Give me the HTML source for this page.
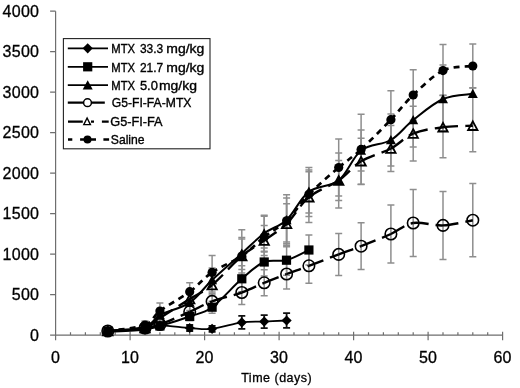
<!DOCTYPE html>
<html><head><meta charset="utf-8"><title>chart</title>
<style>
html,body{margin:0;padding:0;background:#fff;}
body{width:520px;height:388px;overflow:hidden;font-family:"Liberation Sans",sans-serif;}
svg{display:block;filter:blur(0.45px)}
text{font-family:"Liberation Sans",sans-serif;fill:#000}
.ax{font-size:16px;letter-spacing:0.3px;stroke:#000;stroke-width:0.3px}
.lg{font-size:12.8px;stroke:#000;stroke-width:0.35px}
.tt{font-size:12.5px;letter-spacing:0.5px;stroke:#000;stroke-width:0.3px}
</style></head><body>
<svg width="520" height="388" viewBox="0 0 520 388">
<rect width="520" height="388" fill="#fff"/>
<path d="M55.6,11.3 V335.2 M55.6,335.2 H502.6 M50.1,335.2 H55.6 M50.1,294.7 H55.6 M50.1,254.2 H55.6 M50.1,213.7 H55.6 M50.1,173.2 H55.6 M50.1,132.7 H55.6 M50.1,92.2 H55.6 M50.1,51.7 H55.6 M50.1,11.2 H55.6 M55.6,331.7 V340.2 M70.5,332.2 V335.2 M85.4,332.2 V335.2 M100.3,332.2 V335.2 M115.2,332.2 V335.2 M130.1,331.7 V340.2 M145.0,332.2 V335.2 M159.9,332.2 V335.2 M174.8,332.2 V335.2 M189.7,332.2 V335.2 M204.6,331.7 V340.2 M219.5,332.2 V335.2 M234.4,332.2 V335.2 M249.3,332.2 V335.2 M264.2,332.2 V335.2 M279.1,331.7 V340.2 M294.0,332.2 V335.2 M308.9,332.2 V335.2 M323.8,332.2 V335.2 M338.7,332.2 V335.2 M353.6,331.7 V340.2 M368.5,332.2 V335.2 M383.4,332.2 V335.2 M398.3,332.2 V335.2 M413.2,332.2 V335.2 M428.1,331.7 V340.2 M443.0,332.2 V335.2 M457.9,332.2 V335.2 M472.8,332.2 V335.2 M487.7,332.2 V335.2 M502.6,331.7 V340.2" stroke="#6e6e6e" stroke-width="1.2" fill="none"/>
<path d="M107.8,329.0 V333.0 M104.2,329.0 H111.2 M104.2,333.0 H111.2 M145.0,321.0 V329.0 M141.5,321.0 H148.5 M141.5,329.0 H148.5 M159.9,303.0 V319.0 M156.4,303.0 H163.4 M156.4,319.0 H163.4 M189.7,282.7 V300.7 M186.2,282.7 H193.2 M186.2,300.7 H193.2 M212.1,255.4 V289.4 M208.6,255.4 H215.6 M208.6,289.4 H215.6 M241.8,229.7 V279.0 M238.3,229.7 H245.3 M238.3,279.0 H245.3 M264.2,216.2 V252.0 M260.7,216.2 H267.7 M260.7,252.0 H267.7 M286.6,194.8 V246.8 M283.1,194.8 H290.1 M283.1,246.8 H290.1 M308.9,167.4 V216.4 M305.4,167.4 H312.4 M305.4,216.4 H312.4 M338.7,139.0 V196.0 M335.2,139.0 H342.2 M335.2,196.0 H342.2 M361.1,114.2 V184.6 M357.6,114.2 H364.6 M357.6,184.6 H364.6 M390.9,90.7 V148.7 M387.4,90.7 H394.4 M387.4,148.7 H394.4 M413.2,69.7 V120.3 M409.7,69.7 H416.7 M409.7,120.3 H416.7 M443.0,44.6 V95.2 M439.5,44.6 H446.5 M439.5,95.2 H446.5 M472.8,44.0 V88.0 M469.3,44.0 H476.3 M469.3,88.0 H476.3" stroke="#8e8e8e" stroke-width="1.5" fill="none"/>
<path d="M107.8,329.0 V333.0 M104.2,329.0 H111.2 M104.2,333.0 H111.2 M145.0,324.0 V330.0 M141.5,324.0 H148.5 M141.5,330.0 H148.5 M159.9,310.0 V320.0 M156.4,310.0 H163.4 M156.4,320.0 H163.4 M189.7,294.6 V310.6 M186.2,294.6 H193.2 M186.2,310.6 H193.2 M212.1,268.0 V292.0 M208.6,268.0 H215.6 M208.6,292.0 H215.6 M241.8,237.4 V269.4 M238.3,237.4 H245.3 M238.3,269.4 H245.3 M264.2,215.3 V251.3 M260.7,215.3 H267.7 M260.7,251.3 H267.7 M286.6,198.0 V242.0 M283.1,198.0 H290.1 M283.1,242.0 H290.1 M308.9,170.1 V213.1 M305.4,170.1 H312.4 M305.4,213.1 H312.4 M338.7,160.5 V200.5 M335.2,160.5 H342.2 M335.2,200.5 H342.2 M361.1,130.0 V171.0 M357.6,130.0 H364.6 M357.6,171.0 H364.6 M390.9,114.0 V166.0 M387.4,114.0 H394.4 M387.4,166.0 H394.4 M413.2,93.0 V147.0 M409.7,93.0 H416.7 M409.7,147.0 H416.7 M443.0,65.0 V131.0 M439.5,65.0 H446.5 M439.5,131.0 H446.5" stroke="#8e8e8e" stroke-width="1.5" fill="none"/>
<path d="M107.8,329.0 V333.0 M104.2,329.0 H111.2 M104.2,333.0 H111.2 M145.0,325.0 V331.0 M141.5,325.0 H148.5 M141.5,331.0 H148.5 M159.9,313.0 V323.0 M156.4,313.0 H163.4 M156.4,323.0 H163.4 M189.7,292.0 V306.0 M186.2,292.0 H193.2 M186.2,306.0 H193.2 M212.1,275.0 V295.0 M208.6,275.0 H215.6 M208.6,295.0 H215.6 M241.8,239.0 V273.0 M238.3,239.0 H245.3 M238.3,273.0 H245.3 M264.2,225.5 V255.5 M260.7,225.5 H267.7 M260.7,255.5 H267.7 M286.6,203.8 V243.8 M283.1,203.8 H290.1 M283.1,243.8 H290.1 M308.9,171.8 V222.6 M305.4,171.8 H312.4 M305.4,222.6 H312.4 M338.7,152.9 V208.1 M335.2,152.9 H342.2 M335.2,208.1 H342.2 M361.1,138.2 V184.2 M357.6,138.2 H364.6 M357.6,184.2 H364.6 M390.9,125.5 V171.5 M387.4,125.5 H394.4 M387.4,171.5 H394.4 M413.2,106.3 V160.9 M409.7,106.3 H416.7 M409.7,160.9 H416.7 M443.0,95.4 V157.8 M439.5,95.4 H446.5 M439.5,157.8 H446.5 M472.8,87.7 V151.7 M469.3,87.7 H476.3 M469.3,151.7 H476.3" stroke="#8e8e8e" stroke-width="1.5" fill="none"/>
<path d="M107.8,329.0 V333.0 M104.2,329.0 H111.2 M104.2,333.0 H111.2 M145.0,326.0 V330.0 M141.5,326.0 H148.5 M141.5,330.0 H148.5 M159.9,321.5 V327.5 M156.4,321.5 H163.4 M156.4,327.5 H163.4 M189.7,305.8 V317.8 M186.2,305.8 H193.2 M186.2,317.8 H193.2 M212.1,293.4 V309.4 M208.6,293.4 H215.6 M208.6,309.4 H215.6 M241.8,280.5 V304.5 M238.3,280.5 H245.3 M238.3,304.5 H245.3 M264.2,269.8 V295.8 M260.7,269.8 H267.7 M260.7,295.8 H267.7 M286.6,259.0 V289.0 M283.1,259.0 H290.1 M283.1,289.0 H290.1 M308.9,248.3 V283.3 M305.4,248.3 H312.4 M305.4,283.3 H312.4 M338.7,233.4 V275.4 M335.2,233.4 H342.2 M335.2,275.4 H342.2 M361.1,222.8 V269.6 M357.6,222.8 H364.6 M357.6,269.6 H364.6 M390.9,205.0 V263.0 M387.4,205.0 H394.4 M387.4,263.0 H394.4 M413.2,189.6 V256.4 M409.7,189.6 H416.7 M409.7,256.4 H416.7 M443.0,191.4 V259.4 M439.5,191.4 H446.5 M439.5,259.4 H446.5 M472.8,183.6 V256.8 M469.3,183.6 H476.3 M469.3,256.8 H476.3" stroke="#8e8e8e" stroke-width="1.5" fill="none"/>
<path d="M107.8,329.0 V333.0 M104.2,329.0 H111.2 M104.2,333.0 H111.2 M145.0,327.0 V331.0 M141.5,327.0 H148.5 M141.5,331.0 H148.5 M159.9,323.0 V329.0 M156.4,323.0 H163.4 M156.4,329.0 H163.4 M189.7,312.5 V320.5 M186.2,312.5 H193.2 M186.2,320.5 H193.2 M212.1,301.2 V313.2 M208.6,301.2 H215.6 M208.6,313.2 H215.6 M241.8,265.8 V291.8 M238.3,265.8 H245.3 M238.3,291.8 H245.3 M264.2,248.0 V276.0 M260.7,248.0 H267.7 M260.7,276.0 H267.7 M286.6,245.2 V275.2 M283.1,245.2 H290.1 M283.1,275.2 H290.1 M308.9,235.0 V265.0 M305.4,235.0 H312.4 M305.4,265.0 H312.4" stroke="#8e8e8e" stroke-width="1.5" fill="none"/>
<path d="M107.8,332.0 C114.0,331.6 136.3,330.6 145.0,329.5 C153.7,328.4 152.5,325.9 159.9,325.7 C167.3,325.4 181.0,327.5 189.7,328.0 C198.4,328.5 203.4,329.7 212.1,328.8 C220.7,327.9 233.2,323.6 241.8,322.4 C250.5,321.2 256.8,321.9 264.2,321.6 C271.6,321.3 282.8,320.7 286.6,320.5" stroke="#000" stroke-width="1.8" fill="none"/>
<path d="M107.8,331.0 V333.0 M104.2,331.0 H111.2 M104.2,333.0 H111.2 M145.0,327.5 V331.5 M141.5,327.5 H148.5 M141.5,331.5 H148.5 M159.9,322.7 V328.7 M156.4,322.7 H163.4 M156.4,328.7 H163.4 M189.7,325.0 V331.0 M186.2,325.0 H193.2 M186.2,331.0 H193.2 M212.1,325.8 V331.8 M208.6,325.8 H215.6 M208.6,331.8 H215.6 M241.8,315.9 V328.9 M238.3,315.9 H245.3 M238.3,328.9 H245.3 M264.2,315.1 V328.1 M260.7,315.1 H267.7 M260.7,328.1 H267.7 M286.6,313.1 V327.9 M283.1,313.1 H290.1 M283.1,327.9 H290.1" stroke="#111" stroke-width="1.8" fill="none"/>
<path d="M107.8,326.9 l5.1,5.1 l-5.1,5.1 l-5.1,-5.1 z" fill="#000"/><path d="M145.0,324.4 l5.1,5.1 l-5.1,5.1 l-5.1,-5.1 z" fill="#000"/><path d="M159.9,320.6 l5.1,5.1 l-5.1,5.1 l-5.1,-5.1 z" fill="#000"/><path d="M189.7,322.9 l5.1,5.1 l-5.1,5.1 l-5.1,-5.1 z" fill="#000"/><path d="M212.1,323.7 l5.1,5.1 l-5.1,5.1 l-5.1,-5.1 z" fill="#000"/><path d="M241.8,317.3 l5.1,5.1 l-5.1,5.1 l-5.1,-5.1 z" fill="#000"/><path d="M264.2,316.5 l5.1,5.1 l-5.1,5.1 l-5.1,-5.1 z" fill="#000"/><path d="M286.6,315.4 l5.1,5.1 l-5.1,5.1 l-5.1,-5.1 z" fill="#000"/>
<path d="M107.8,331.0 C114.0,330.7 136.3,329.8 145.0,329.0 C153.7,328.2 152.5,328.1 159.9,326.0 C167.3,323.9 181.0,319.6 189.7,316.5 C198.4,313.4 203.4,313.5 212.1,307.2 C220.7,300.9 233.2,286.3 241.8,278.8 C250.5,271.3 256.8,265.1 264.2,262.0 C271.6,258.9 279.1,262.2 286.6,260.2 C294.0,258.2 305.2,251.7 308.9,250.0" stroke="#000" stroke-width="2" fill="none"/>
<rect x="103.2" y="326.4" width="9.2" height="9.2" fill="#000"/><rect x="140.4" y="324.4" width="9.2" height="9.2" fill="#000"/><rect x="155.3" y="321.4" width="9.2" height="9.2" fill="#000"/><rect x="185.1" y="311.9" width="9.2" height="9.2" fill="#000"/><rect x="207.5" y="302.6" width="9.2" height="9.2" fill="#000"/><rect x="237.2" y="274.2" width="9.2" height="9.2" fill="#000"/><rect x="259.6" y="257.4" width="9.2" height="9.2" fill="#000"/><rect x="281.9" y="255.6" width="9.2" height="9.2" fill="#000"/><rect x="304.3" y="245.4" width="9.2" height="9.2" fill="#000"/>
<path d="M107.8,331.0 C114.0,330.3 136.3,329.7 145.0,327.0 C153.7,324.3 152.5,319.1 159.9,315.0 C167.3,310.9 181.0,308.4 189.7,302.6 C198.4,296.8 203.4,288.2 212.1,280.0 C220.7,271.8 233.2,261.2 241.8,253.4 C250.5,245.6 256.8,238.9 264.2,233.3 C271.6,227.7 279.1,226.9 286.6,220.0 C294.0,213.1 300.2,198.2 308.9,191.6 C317.6,185.0 330.0,187.3 338.7,180.5 C347.4,173.7 352.4,157.2 361.1,150.5 C369.7,143.8 382.2,145.1 390.9,140.0 C399.5,134.9 404.5,126.8 413.2,120.0 C421.9,113.2 433.1,103.4 443.0,99.0 C452.9,94.6 467.8,94.7 472.8,93.8" stroke="#000" stroke-width="2" fill="none"/>
<path d="M107.8,326.0 l5,9.2 h-10 z" fill="#000"/><path d="M145.0,322.0 l5,9.2 h-10 z" fill="#000"/><path d="M159.9,310.0 l5,9.2 h-10 z" fill="#000"/><path d="M189.7,297.6 l5,9.2 h-10 z" fill="#000"/><path d="M212.1,275.0 l5,9.2 h-10 z" fill="#000"/><path d="M241.8,248.4 l5,9.2 h-10 z" fill="#000"/><path d="M264.2,228.3 l5,9.2 h-10 z" fill="#000"/><path d="M286.6,215.0 l5,9.2 h-10 z" fill="#000"/><path d="M308.9,186.6 l5,9.2 h-10 z" fill="#000"/><path d="M338.7,175.5 l5,9.2 h-10 z" fill="#000"/><path d="M361.1,145.5 l5,9.2 h-10 z" fill="#000"/><path d="M390.9,135.0 l5,9.2 h-10 z" fill="#000"/><path d="M413.2,115.0 l5,9.2 h-10 z" fill="#000"/><path d="M443.0,94.0 l5,9.2 h-10 z" fill="#000"/><path d="M472.8,88.8 l5,9.2 h-10 z" fill="#000"/>
<g stroke="#000" stroke-width="2.4" stroke-dasharray="15.5 7" fill="none"><path d="M107.8,331.0 C114.0,330.5 136.3,329.1 145.0,328.0"/><path d="M145.0,328.0 C153.7,326.9 152.5,327.2 159.9,324.5"/><path d="M159.9,324.5 C167.3,321.8 181.0,315.7 189.7,311.8"/><path d="M189.7,311.8 C198.4,307.9 203.4,304.6 212.1,301.4"/><path d="M212.1,301.4 C220.7,298.2 233.2,295.6 241.8,292.5"/><path d="M241.8,292.5 C250.5,289.4 256.8,285.9 264.2,282.8"/><path d="M264.2,282.8 C271.6,279.7 279.1,276.8 286.6,274.0"/><path d="M286.6,274.0 C294.0,271.2 300.2,269.1 308.9,265.8"/><path d="M308.9,265.8 C317.6,262.5 330.0,257.7 338.7,254.4"/><path d="M338.7,254.4 C347.4,251.1 352.4,249.6 361.1,246.2"/><path d="M361.1,246.2 C369.7,242.8 382.2,237.9 390.9,234.0"/><path d="M390.9,234.0 C399.5,230.1 404.5,224.4 413.2,223.0"/><path d="M413.2,223.0 C421.9,221.6 433.1,225.9 443.0,225.4"/><path d="M443.0,225.4 C452.9,224.9 467.8,221.1 472.8,220.2"/></g>
<circle cx="107.8" cy="331.0" r="5.75" fill="none" stroke="#000" stroke-width="1.6"/><circle cx="145.0" cy="328.0" r="5.75" fill="none" stroke="#000" stroke-width="1.6"/><circle cx="159.9" cy="324.5" r="5.75" fill="none" stroke="#000" stroke-width="1.6"/><circle cx="189.7" cy="311.8" r="5.75" fill="none" stroke="#000" stroke-width="1.6"/><circle cx="212.1" cy="301.4" r="5.75" fill="none" stroke="#000" stroke-width="1.6"/><circle cx="241.8" cy="292.5" r="5.75" fill="none" stroke="#000" stroke-width="1.6"/><circle cx="264.2" cy="282.8" r="5.75" fill="none" stroke="#000" stroke-width="1.6"/><circle cx="286.6" cy="274.0" r="5.75" fill="none" stroke="#000" stroke-width="1.6"/><circle cx="308.9" cy="265.8" r="5.75" fill="none" stroke="#000" stroke-width="1.6"/><circle cx="338.7" cy="254.4" r="5.75" fill="none" stroke="#000" stroke-width="1.6"/><circle cx="361.1" cy="246.2" r="5.75" fill="none" stroke="#000" stroke-width="1.6"/><circle cx="390.9" cy="234.0" r="5.75" fill="none" stroke="#000" stroke-width="1.6"/><circle cx="413.2" cy="223.0" r="5.75" fill="none" stroke="#000" stroke-width="1.6"/><circle cx="443.0" cy="225.4" r="5.75" fill="none" stroke="#000" stroke-width="1.6"/><circle cx="472.8" cy="220.2" r="5.75" fill="none" stroke="#000" stroke-width="1.6"/>
<g stroke="#000" stroke-width="2.4" stroke-dasharray="15 7.2" fill="none"><path d="M107.8,331.0 C114.0,330.5 136.3,330.2 145.0,328.0"/><path d="M145.0,328.0 C153.7,325.8 152.5,322.8 159.9,318.0"/><path d="M159.9,318.0 C167.3,313.2 181.0,304.5 189.7,299.0"/><path d="M189.7,299.0 C198.4,293.5 203.4,292.2 212.1,285.0"/><path d="M212.1,285.0 C220.7,277.8 233.2,263.4 241.8,256.0"/><path d="M241.8,256.0 C250.5,248.6 256.8,245.9 264.2,240.5"/><path d="M264.2,240.5 C271.6,235.1 279.1,231.0 286.6,223.8"/><path d="M286.6,223.8 C294.0,216.6 300.2,204.4 308.9,197.2"/><path d="M308.9,197.2 C317.6,190.0 330.0,186.5 338.7,180.5"/><path d="M338.7,180.5 C347.4,174.5 352.4,166.5 361.1,161.2"/><path d="M361.1,161.2 C369.7,155.9 382.2,153.1 390.9,148.5"/><path d="M390.9,148.5 C399.5,143.9 404.5,137.2 413.2,133.6"/><path d="M413.2,133.6 C421.9,130.0 433.1,128.5 443.0,127.2"/><path d="M443.0,127.2 C452.9,125.9 467.8,126.0 472.8,125.7"/></g>
<path d="M107.8,326.7 l4.7,8.6 h-9.4 z" fill="none" stroke="#000" stroke-width="1.8"/><path d="M145.0,323.7 l4.7,8.6 h-9.4 z" fill="none" stroke="#000" stroke-width="1.8"/><path d="M159.9,313.7 l4.7,8.6 h-9.4 z" fill="none" stroke="#000" stroke-width="1.8"/><path d="M189.7,294.7 l4.7,8.6 h-9.4 z" fill="none" stroke="#000" stroke-width="1.8"/><path d="M212.1,280.7 l4.7,8.6 h-9.4 z" fill="none" stroke="#000" stroke-width="1.8"/><path d="M241.8,251.7 l4.7,8.6 h-9.4 z" fill="none" stroke="#000" stroke-width="1.8"/><path d="M264.2,236.2 l4.7,8.6 h-9.4 z" fill="none" stroke="#000" stroke-width="1.8"/><path d="M286.6,219.5 l4.7,8.6 h-9.4 z" fill="none" stroke="#000" stroke-width="1.8"/><path d="M308.9,192.9 l4.7,8.6 h-9.4 z" fill="none" stroke="#000" stroke-width="1.8"/><path d="M338.7,176.2 l4.7,8.6 h-9.4 z" fill="none" stroke="#000" stroke-width="1.8"/><path d="M361.1,156.9 l4.7,8.6 h-9.4 z" fill="none" stroke="#000" stroke-width="1.8"/><path d="M390.9,144.2 l4.7,8.6 h-9.4 z" fill="none" stroke="#000" stroke-width="1.8"/><path d="M413.2,129.3 l4.7,8.6 h-9.4 z" fill="none" stroke="#000" stroke-width="1.8"/><path d="M443.0,122.9 l4.7,8.6 h-9.4 z" fill="none" stroke="#000" stroke-width="1.8"/><path d="M472.8,121.4 l4.7,8.6 h-9.4 z" fill="none" stroke="#000" stroke-width="1.8"/>
<g stroke="#000" stroke-width="2.7" stroke-dasharray="6 5" fill="none"><path d="M107.8,331.0 C114.0,330.0 136.3,328.3 145.0,325.0"/><path d="M145.0,325.0 C153.7,321.7 152.5,316.6 159.9,311.0"/><path d="M159.9,311.0 C167.3,305.4 181.0,298.1 189.7,291.7"/><path d="M189.7,291.7 C198.4,285.3 203.4,278.3 212.1,272.4"/><path d="M212.1,272.4 C220.7,266.4 233.2,261.9 241.8,256.0"/><path d="M241.8,256.0 C250.5,250.1 256.8,242.9 264.2,237.0"/><path d="M264.2,237.0 C271.6,231.1 279.1,227.9 286.6,220.8"/><path d="M286.6,220.8 C294.0,213.7 300.2,203.2 308.9,194.3"/><path d="M308.9,194.3 C317.6,185.4 330.0,175.0 338.7,167.5"/><path d="M338.7,167.5 C347.4,160.0 352.4,157.4 361.1,149.4"/><path d="M361.1,149.4 C369.7,141.4 382.2,128.8 390.9,119.7"/><path d="M390.9,119.7 C399.5,110.6 404.5,103.2 413.2,95.0"/><path d="M413.2,95.0 C421.9,86.8 433.1,75.4 443.0,70.6"/><path d="M443.0,70.6 C452.9,65.8 467.8,66.8 472.8,66.0"/></g>
<circle cx="107.8" cy="331.0" r="4.6" fill="#000"/><circle cx="145.0" cy="325.0" r="4.6" fill="#000"/><circle cx="159.9" cy="311.0" r="4.6" fill="#000"/><circle cx="189.7" cy="291.7" r="4.6" fill="#000"/><circle cx="212.1" cy="272.4" r="4.6" fill="#000"/><circle cx="241.8" cy="256.0" r="4.6" fill="#000"/><circle cx="264.2" cy="237.0" r="4.6" fill="#000"/><circle cx="286.6" cy="220.8" r="4.6" fill="#000"/><circle cx="308.9" cy="194.3" r="4.6" fill="#000"/><circle cx="338.7" cy="167.5" r="4.6" fill="#000"/><circle cx="361.1" cy="149.4" r="4.6" fill="#000"/><circle cx="390.9" cy="119.7" r="4.6" fill="#000"/><circle cx="413.2" cy="95.0" r="4.6" fill="#000"/><circle cx="443.0" cy="70.6" r="4.6" fill="#000"/><circle cx="472.8" cy="66.0" r="4.6" fill="#000"/>
<rect x="63.4" y="38.6" width="146.6" height="110.2" fill="#fff" stroke="#222" stroke-width="1.1"/>
<path d="M67.8,48.3 H108" stroke="#000" stroke-width="1.7"/>
<path d="M87.7,43.2 l5.1,5.1 l-5.1,5.1 l-5.1,-5.1 z" fill="#000"/>
<path d="M67.8,66.8 H108" stroke="#000" stroke-width="1.7"/>
<rect x="83.1" y="62.2" width="9.2" height="9.2" fill="#000"/>
<path d="M67.8,85.2 H108" stroke="#000" stroke-width="1.7"/>
<path d="M87.7,80.2 l5,9.2 h-10 z" fill="#000"/>
<path d="M67.8,102.7 H104.8" stroke="#000" stroke-width="2.3"/>
<circle cx="87.5" cy="102.7" r="3.9" fill="#fff" stroke="#000" stroke-width="1.5"/>
<path d="M68,121.6 H82.8 M91,121.6 H94 M101.9,121.6 H108.7" stroke="#000" stroke-width="2.3"/>
<path d="M87.1,118.0 l3.3,6.6 h-6.6 z" fill="#fff" stroke="#000" stroke-width="1.4"/>
<path d="M68,139.6 H72.3 M80.1,139.6 H96 M103.4,139.6 H109.1" stroke="#000" stroke-width="2.5"/>
<circle cx="87.5" cy="139.6" r="4" fill="#000"/>
<text y="53.0" class="lg"><tspan x="111.3" textLength="23.8" lengthAdjust="spacingAndGlyphs">MTX</tspan><tspan x="139.9" textLength="23.3" lengthAdjust="spacingAndGlyphs">33.3</tspan><tspan x="166.3" textLength="38.1" lengthAdjust="spacingAndGlyphs">mg/kg</tspan></text>
<text y="71.5" class="lg"><tspan x="111.3" textLength="23.8" lengthAdjust="spacingAndGlyphs">MTX</tspan><tspan x="139.9" textLength="23.3" lengthAdjust="spacingAndGlyphs">21.7</tspan><tspan x="166.3" textLength="38.1" lengthAdjust="spacingAndGlyphs">mg/kg</tspan></text>
<text y="89.9" class="lg"><tspan x="111.3" textLength="23.8" lengthAdjust="spacingAndGlyphs">MTX</tspan><tspan x="139.9" textLength="18.0" lengthAdjust="spacingAndGlyphs">5.0</tspan><tspan x="158.9" textLength="38.1" lengthAdjust="spacingAndGlyphs">mg/kg</tspan></text>
<text x="111.8" y="107.3" class="lg" textLength="79.6" lengthAdjust="spacingAndGlyphs">G5-FI-FA-MTX</text>
<text x="110.3" y="126.2" class="lg" textLength="52.3" lengthAdjust="spacingAndGlyphs">G5-FI-FA</text>
<text x="110.8" y="144.2" class="lg" textLength="33.8" lengthAdjust="spacingAndGlyphs">Saline</text>
<text x="39.3" y="340.8" text-anchor="end" class="ax">0</text>
<text x="39.3" y="300.3" text-anchor="end" class="ax">500</text>
<text x="39.3" y="259.8" text-anchor="end" class="ax">1000</text>
<text x="39.3" y="219.3" text-anchor="end" class="ax">1500</text>
<text x="39.3" y="178.8" text-anchor="end" class="ax">2000</text>
<text x="39.3" y="138.3" text-anchor="end" class="ax">2500</text>
<text x="39.3" y="97.8" text-anchor="end" class="ax">3000</text>
<text x="39.3" y="57.3" text-anchor="end" class="ax">3500</text>
<text x="39.3" y="16.8" text-anchor="end" class="ax">4000</text>
<text x="55.6" y="363.1" text-anchor="middle" class="ax">0</text>
<text x="130.1" y="363.1" text-anchor="middle" class="ax">10</text>
<text x="204.6" y="363.1" text-anchor="middle" class="ax">20</text>
<text x="279.1" y="363.1" text-anchor="middle" class="ax">30</text>
<text x="353.6" y="363.1" text-anchor="middle" class="ax">40</text>
<text x="428.1" y="363.1" text-anchor="middle" class="ax">50</text>
<text x="502.6" y="363.1" text-anchor="middle" class="ax">60</text>
<text x="276.7" y="381.7" text-anchor="middle" class="tt">Time (days)</text>
</svg>
</body></html>
